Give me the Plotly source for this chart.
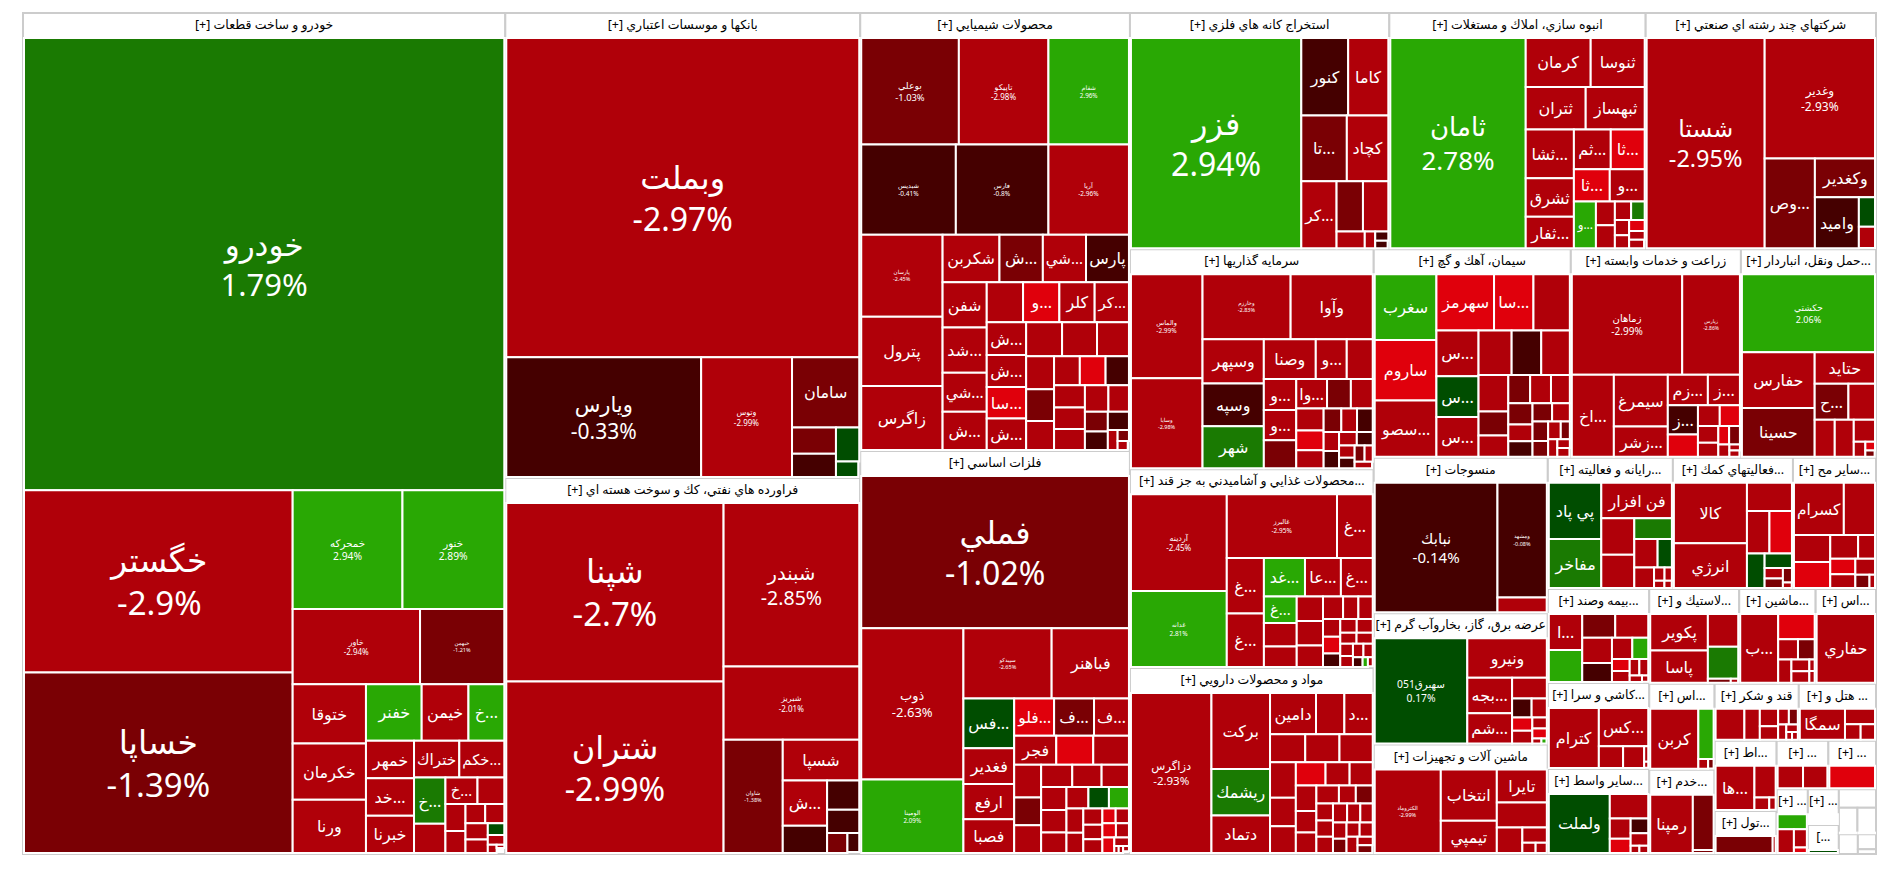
import plotly.graph_objects as go

sector_names = ["[+] خودرو و ساخت قطعات", "[+] بانكها و موسسات اعتباري", "[+] فراورده هاي نفتي، كك و سوخت هسته اي",
    "[+] محصولات شيميايي", "[+] فلزات اساسي", "[+] استخراج كانه هاي فلزي", "[+] انبوه سازي، املاك و مستغلات",
    "[+] شركتهاي چند رشته اي صنعتي", "[+] سرمايه گذاريها", "[+] سيمان، آهك و گچ", "[+] زراعت و خدمات وابسته",
    "[+] حمل ونقل، انباردار...", "[+] محصولات غذايي و آشاميدني به جز قند...", "[+] مواد و محصولات دارويي", "[+] منسوجات",
    "[+] عرضه برق، گاز، بخاروآب گرم", "[+] ماشين آلات و تجهيزات", "[+] رايانه و فعاليته...", "[+] فعاليتهاي كمك...",
    "[+] ساير مح...", "[+] بيمه وصند...", "[+] لاستيك و...", "[+] ماشين...", "[+] اس...", "[+] كاشي و سرا...", "[+] اس...",
    "[+] قند و شكر", "[+] هتل و ...", "[+] اط...", "[+] ...", "[+] ...", "[+] خدم...", "[+] ساير واسط...", "[+] تول...",
    "[+] ...", "[+] ...", "[...", "", "", "", "", "", ""]
sector_sizes = [404521, 164610, 133104, 117822, 108407, 61124, 60416, 54280, 53460, 40976, 35360, 28080, 48357, 45198,
    27000, 22800, 19000, 16375, 15720, 10873, 9500, 8500, 7220, 5700, 8700, 5600, 4788, 4389, 4340, 2499, 2303, 5500,
    8600, 2666, 2016, 1104, 899, 682, 493, 374, 493, 272, 85]

names_01 = ["خودرو", "خگستر", "خساپا", "خمحركه", "خنور", "خاور", "خبهمن", "ختوقا", "خكرمان", "ورنا", "خفنر", "خيمن", "خ...", "خمهر", "خد...", "خبرنا", "ختراك", "خكم...", "خ...", "خ...", "", "", "", "", "", "", "", "", "", "", "", ""]
sizes_01 = [216029, 48760, 48230, 12980, 12036, 9525, 6300, 4320, 4104, 3888, 3136, 2632, 2016, 1800, 1790, 1780, 1660, 1650, 1440, 840, 918, 702, 440, 380, 361, 540, 368, 192, 299, 160, 72, 24]
change_01 = [1.79, -2.9, -1.39, 2.94, 2.89, -2.94, -1.21, -2.9, -2.9, -2.9, 2.5, -2.9, 2.5, -2.9, -2.9, -2.9, -2.9, -2.9, 1.5, -2.9, -2.9, -2.9, -2.9, -2.9, -2.9, -2.9, -2.9, 0.4, -2.9, -2.9, -2.9, -2.9]

names_02 = ["وبملت", "ويارس", "وتوس", "سامان", "", "", "", ""]
sizes_02 = [111969, 23160, 10800, 4690, 1144, 1012, 782, 345]
change_02 = [-2.97, -0.33, -2.99, -1.5, -1.5, -0.6, 0.4, 0.3]

names_03 = ["شپنا", "شتران", "شبندر", "شبريز", "شاوان", "شسپا", "ش...", "", "", "", "", ""]
sizes_03 = [38270, 36765, 21896, 9792, 6612, 3080, 1980, 928, 736, 1188, 400, 220]
change_03 = [-2.7, -2.99, -2.85, -2.01, -1.38, -2.5, -2.5, -0.6, -0.6, -0.7, -1.5, -0.7]

names_04 = ["بوعلي", "تاپيكو", "شفام", "شبديس", "فارس", "آريا", "پارسان", "پترول", "زاگرس", "شكربن", "ش...", "شي...", "پارس", "شفن", "شد...", "شي...", "ش...", "", "و...", "كلر", "كر...", "ش...", "ش...", "سا...", "ش..."] + [""] * 20
sizes_04 = [10088, 9256, 8320, 8272, 8096, 7040, 6478, 5451, 5056, 2622, 2000, 1990, 1980, 1935, 1935, 1677, 1634, 1404, 1404, 1365, 1326, 1254, 1220, 1210, 1200, 1188, 1155, 1056, 891, 728, 728, 644, 864, 783, 660, 630, 660, 600, 525, 414, 374, 437, 190, 121, 88]
change_04 = [-1.03, -2.98, 2.96, -0.41, -0.8, -2.96, -2.45, -2.8, -2.7, -2.8, -1.5, -2.6, -0.5, -2.7, -2.7, -2.7, -2.7, -2.7, -3.2, -2.7, -2.7, -2.7, -2.7, -3.2, -2.7, -2.7, -2.7, -2.7, -2.7, -2.7, -3.2, -2.7, -1.5, -2.7, -0.6, -2.7, -2.7, -2.7, -2.7, -0.6, -0.6, -1.5, -2.7, -1.5, -2.7]

names_05 = ["فملي", "ذوب", "الومينا", "سپيدكو", "فباهنر", "فس...", "فغدير", "ارفع", "فصبا", "فلو...", "ف...", "ف...", "فجر"] + [""] * 28
sizes_05 = [39664, 15048, 7326, 6052, 5304, 2450, 1765, 1750, 1666, 1440, 1440, 1260, 1188, 1044, 1008, 864, 728, 728, 676, 638, 594, 572, 552, 506, 460, 430, 420, 400, 330, 300, 255, 180, 180, 272, 192, 192, 187, 121, 30, 30, 30]
change_05 = [-1.02, -2.63, 2.09, -2.65, -2.7, 0.4, -2.7, -2.7, -2.7, -3.2, -1.5, -2.7, -2.7, -3.2, -2.7, -2.7, -1.5, -2.7, -2.7, -2.7, -2.7, -2.7, -2.7, -2.7, -2.7, 0.3, 2.5, -2.7, -2.7, -2.7, -2.7, -2.7, -3.2, -2.7, -3.2, -2.7, -3.2, -2.7, -2.7, -2.7, -2.7]

names_06 = ["فزر", "كنور", "كاما", "تا...", "كچاد", "كر...", "", "", "", "", "", ""]
sizes_06 = [34500, 3500, 3000, 2880, 2624, 2278, 1274, 1225, 459, 170, 117, 91]
change_06 = [2.94, -0.6, -2.6, -1.5, -2.6, -2.6, -1.5, -2.6, -2.6, -2.6, -0.7, -0.6]

names_07 = ["ثامان", "كرمان", "ثنوسا", "ثتران", "ثبهساز", "ثشا...", "ثشرق", "ثفار...", "ثم...", "ثا...", "ثا...", "و...", "و..."] + [""] * 9
sizes_07 = [27379, 3055, 2538, 2460, 2419, 2256, 1786, 1457, 1406, 1292, 1116, 1085, 990, 432, 288, 240, 180, 165, 420, 208, 132, 121]
change_07 = [2.78, -2.7, -2.7, -2.7, -2.7, -2.7, -2.7, -2.7, -2.7, -3.2, -3.2, -2.7, 2.4, -2.7, -2.7, 1.5, -2.7, -3.2, -2.7, -2.7, -2.7, -2.7]

names_08 = ["شستا", "وغدير", "وص...", "وكغدير", "واميد", "", ""]
sizes_08 = [24244, 12980, 4410, 2280, 2193, 464, 336]
change_08 = [-2.95, -2.93, -1.5, -1.5, -0.6, 0.3, -2.8]

names_09 = ["والماس", "وسايا", "وخارزم", "وآوا", "وسپهر", "وسپه", "شهر", "وصنا", "و...", "", "و...", "و...", "", "وا..."] + [""] * 17
sizes_09 = [7107, 6141, 5456, 5084, 2600, 2500, 2450, 1976, 1178, 988, 961, 930, 868, 868, 672, 616, 572, 396, 352, 352, 520, 468, 280, 252, 228, 204, 182, 154, 126, 156, 108]
change_09 = [-2.99, -2.98, -2.83, -2.7, -2.7, -0.6, 1.5, -2.7, -2.7, -2.7, -2.7, -2.7, -1.5, -2.7, -1.5, -2.7, -2.7, -1.5, -2.7, -0.6, -3.2, -2.7, -2.7, -0.6, -2.7, -0.6, -2.7, -1.5, -2.7, -0.6, -2.7]

names_10 = ["سغرب", "ساروم", "سصو...", "سهرمز", "سا...", "", "س...", "س...", "س..."] + [""] * 21
sizes_10 = [3776, 3481, 3245, 3021, 2067, 1908, 1800, 1600, 1560, 1376, 1189, 1230, 1008, 672, 588, 572, 494, 546, 484, 336, 304, 374, 352, 285, 150, 150, 228, 209, 100, 100]
change_10 = [2.3, -3.2, -2.7, -3.2, -3.2, -2.7, -2.7, 0.3, -2.7, -2.7, -2.7, -0.6, -2.7, -1.5, -2.7, -1.5, -2.7, -2.7, -1.5, -1.5, -2.7, -2.7, -0.6, -1.5, -1.5, -2.7, -1.5, -2.7, -2.7, -2.7]

names_11 = ["زماهان", "زپارس", "اخ...", "سيمرغ", "زشر...", "زم...", "ز...", "ز...", "", "", "", "", "", "", "", "", "", ""]
sizes_11 = [10573, 5529, 3280, 2652, 1560, 1160, 928, 841, 638, 432, 324, 399, 190, 190, 273, 130, 60, 60]
change_11 = [-2.99, -2.86, -2.7, -2.7, -2.7, -2.7, -2.7, -0.6, -3.2, -2.7, -2.7, -3.2, -3.2, -1.5, -2.7, -2.7, -2.7, -2.7]

names_12 = ["حكشتي", "حفارس", "حسينا", "حتايد", "ح...", "", "", "", "", "", "", ""]
sizes_12 = [9825, 3850, 3360, 1800, 1155, 910, 703, 666, 441, 165, 81, 54]
change_12 = [2.06, -2.7, -1.5, -2.7, -1.5, -2.7, -2.7, -2.7, -2.7, -2.7, -3.2, -1.5]

names_13 = ["آردينه", "غدانه", "غالبرز", "غ...", "غ...", "غ...", "غد...", "عا...", "غ...", "غ..."] + [""] * 22
sizes_13 = [8648, 6808, 6549, 2124, 1925, 1855, 1480, 1295, 1147, 810, 720, 630, 600, 600, 528, 420, 320, 300, 285, 270, 210, 221, 169, 143, 117, 170, 132, 204, 132, 88, 48, 40]
change_13 = [-2.45, 2.81, -2.95, -2.7, -2.7, -2.7, 2.4, -2.7, -2.7, 2.4, -2.7, -2.7, -2.7, -2.7, -2.7, -2.7, -2.7, -2.7, -2.7, -3.2, -2.7, -0.6, -2.7, -2.7, -2.7, -2.7, -2.7, -2.7, -2.7, -0.6, 2.4, -2.7]

names_14 = ["دزاگرس", "بركت", "ريشمك", "دتماد", "دامين", "", "د..."] + [""] * 28
sizes_14 = [12160, 4200, 2576, 2072, 1786, 1102, 1102, 936, 910, 884, 864, 696, 648, 651, 525, 504, 494, 418, 399, 384, 288, 288, 238, 266, 224, 255, 255, 255, 208, 182, 169, 176, 176, 120, 108]
change_14 = [-2.93, -2.8, 1.5, -2.8, -2.8, -2.8, -2.8, -2.8, -2.8, -2.8, -2.8, -2.8, -3.2, -2.8, -2.8, -2.8, -2.8, -2.8, -2.8, -2.8, -2.8, -1.5, -2.8, -2.8, -2.8, -2.8, -2.8, -2.8, -2.8, -1.5, -2.8, -2.8, -2.8, -2.8, -1.5]

names_15 = ["نبابك", "ومشهد", ""]
sizes_15 = [15972, 5684, 735]
change_15 = [-0.14, -0.08, -2.8]

names_16 = ["سهبرق051", "ونيرو", "بجه...", "شم...", "", "", "", "", "", "", "", "", ""]
sizes_16 = [9450, 3040, 1540, 1320, 700, 360, 252, 280, 154, 260, 140, 45, 25]
change_16 = [0.17, -2.8, -2.8, -2.8, -2.8, -0.6, -2.8, -2.8, -2.8, -3.2, -3.2, -2.8, 2.4]

names_17 = ["الكتروماد", "انتخاب", "تيمپي", "تايرا", "", "", "", "", ""]
sizes_17 = [4864, 2530, 1595, 1450, 1104, 575, 330, 120, 100]
change_17 = [-2.99, -2.8, -2.8, -2.8, -2.8, -2.8, -2.8, -2.8, -2.8]

names_18 = ["پي پاد", "مفاخر", "فن افزار", "", "", "", "", "", "", "", "", "", ""]
sizes_18 = [2754, 2397, 2343, 1120, 1024, 722, 621, 378, 380, 130, 91, 70, 49]
change_18 = [0.4, 1.5, -2.8, -2.8, -2.8, 1.5, -2.8, -2.8, 0.3, -2.8, -2.8, -2.8, -2.8]

names_19 = ["كالا", "انرژي", "", "", "", "", "", "", "", "", ""]
sizes_19 = [4060, 3010, 1170, 880, 880, 560, 364, 176, 160, 121, 44]
change_19 = [-2.8, -2.8, -2.8, -2.8, -3.2, 0.3, 0.3, -2.8, -1.5, -1.5, -2.8]

names_20 = ["كسرام", "", "", "", "", "", "", "", "", "", ""]
sizes_20 = [2352, 1470, 884, 850, 594, 352, 360, 285, 312, 169, 65]
change_20 = [-2.8, -2.8, -2.8, -3.2, -2.8, -3.2, -2.8, -2.8, -2.8, -1.5, -2.8]

names_21 = ["ا...", "", "", "", "", "", "", "", "", "", "", "", "", ""]
sizes_21 = [1088, 960, 704, 704, 682, 506, 391, 306, 192, 144, 176, 132, 72, 36]
change_21 = [-2.8, 2.4, -1.5, -2.8, -2.8, -0.6, -2.8, 2.4, -3.3, -2.8, -2.8, -2.8, -2.8, -2.8]

names_22 = ["پكوير", "پاسا", "", "", "", ""]
sizes_22 = [1960, 1736, 930, 900, 88, 28]
change_22 = [-2.8, -2.8, -2.8, 1.5, -1.5, -2.8]

names_23 = ["ب...", "", "", "", "", "", "", "", ""]
sizes_23 = [2345, 828, 361, 304, 276, 187, 55, 187, 55]
change_23 = [-2.8, -3.2, -2.8, -1.5, -2.8, -2.8, -2.8, -2.8, -2.8]

names_24 = ["حفاري"]
sizes_24 = [3886]
change_24 = [-2.8]

names_25 = ["كترام", "كس...", "", "", "", ""]
sizes_25 = [2880, 1813, 506, 440, 60, 24]
change_25 = [-2.8, -2.8, -2.8, -2.8, -2.8, -2.8]

names_26 = ["كربن", "", "", ""]
sizes_26 = [2760, 735, 90, 50]
change_26 = [-2.8, 2.4, -2.8, -1.5]

names_27 = ["", "", "", "", "", "", "", "", "", ""]
sizes_27 = [806, 432, 288, 224, 154, 128, 112, 77, 40, 40]
change_27 = [-2.8, -2.8, -2.8, -2.8, -2.8, -1.5, -2.8, -2.8, -2.8, -2.8]

names_28 = ["سمگا", "", "", ""]
sizes_28 = [1320, 437, 230, 210]
change_28 = [-2.8, -2.8, -2.8, -2.8]

names_29 = ["ها...", "", "", ""]
sizes_29 = [1554, 609, 168, 72]
change_29 = [-2.8, -2.8, -2.8, -2.8]

names_30 = ["", ""]
sizes_30 = [483, 504]
change_30 = [-2.8, -2.8]

names_31 = [""]
sizes_31 = [924]
change_31 = [-3.2]

names_32 = ["رمپنا", "", ""]
sizes_32 = [2337, 1080, 60]
change_32 = [-2.8, -1.5, -1.5]

names_33 = ["ولملت", "", "", "", "", "", "", ""]
sizes_33 = [3422, 897, 399, 285, 209, 247, 60, 60]
change_33 = [0.3, -2.8, -2.8, -3.2, -2.8, -0.6, -2.8, -2.8]

names_34 = ["", ""]
sizes_34 = [928, 48]
change_34 = [-1.5, -2.8]

names_35 = ["", "", "", ""]
sizes_35 = [224, 196, 120, 36]
change_35 = [2.4, -2.8, -2.8, -3.2]

empty_names = [""]
empty_sizes = [1]
change_36 = [None]
change_37 = [0.3]
change_38 = [-3.2]

# label sizes for the tiles that also print their change
label_fonts = {"خودرو": 31, "فملي": 32, "شپنا": 33, "شتران": 32, "وبملت": 32, "خگستر": 33, "خساپا": 33, "فزر": 32,
    "ثامان": 26, "شستا": 23.5, "شبندر": 19.5, "ويارس": 21, "ذوب": 13, "خمحركه": 10.3, "خنور": 10.3, "وتوس": 8,
    "خاور": 8, "خبهمن": 5.5, "بوعلي": 9.4, "تاپيكو": 8, "شفام": 6.3, "شبديس": 6.5, "فارس": 6.5, "آريا": 6.5,
    "پارسان": 5.5, "شبريز": 8, "شاوان": 5.5, "سپيدكو": 5.5, "الومينا": 6.3, "حكشتي": 9, "زماهان": 10, "زپارس": 5,
    "وغدير": 12, "والماس": 6.5, "وسايا": 5.5, "وخارزم": 5.5, "آردينه": 8, "غدانه": 6.5, "غالبرز": 6.5, "نبابك": 15,
    "ومشهد": 5.5, "سهبرق051": 10.3, "دزاگرس": 11.5, "الكتروماد": 5.5}
PLAIN_FONT = 16
HEADER_FONT = 12.5
FAMILY = "Noto Sans, DejaVu Sans, sans-serif"


def tile_colour(change):
    if change is None:
        return "#ffffff"
    if change >= 2:
        return "#29a804"
    if change >= 1:
        return "#1a7a02"
    if change >= 0:
        return "#004d00"
    if change > -1:
        return "#450000"
    if change > -2:
        return "#7a0004"
    if change >= -3:
        return "#b00009"
    return "#e0000c"


def sector_leaves(i):
    if i < 35:
        n = f"{i + 1:02d}"
        return globals()["names_" + n], globals()["sizes_" + n], globals()["change_" + n]
    if i == 36:
        return empty_names, empty_sizes, change_37
    if i == 37:
        return empty_names, empty_sizes, change_38
    return empty_names, empty_sizes, change_36


ids = ["root"]
parents = [""]
values = [float(sum(sector_sizes))]
texts = [""]
colours = ["#ffffff"]
fonts = [HEADER_FONT]
font_colours = ["#000000"]
line_colours = ["#ffffff"]
line_widths = [0]
for i, (title, total) in enumerate(zip(sector_names, sector_sizes)):
    sid = f"sector{i}"
    ids.append(sid); parents.append("root"); values.append(float(total)); texts.append(title)
    colours.append("#ffffff"); fonts.append(HEADER_FONT); font_colours.append("#000000")
    line_colours.append("#cccccc"); line_widths.append(2)
    names, sizes, changes = sector_leaves(i)
    scale = total / sum(sizes)
    for j, (name, size, change) in enumerate(zip(names, sizes, changes)):
        ids.append(f"{sid}_{j}"); parents.append(sid); values.append(size * scale * 0.9999)
        texts.append(f"{name}<br>{change:g}%" if name in label_fonts else name)
        colours.append(tile_colour(change)); fonts.append(label_fonts.get(name, PLAIN_FONT))
        font_colours.append("#ffffff"); line_colours.append("#ffffff"); line_widths.append(2)

fig = go.Figure(go.Treemap(
    ids=ids, labels=texts, parents=parents, values=values, text=texts, branchvalues="total", textinfo="text",
    textposition="middle center", sort=True, hoverinfo="skip", maxdepth=-1,
    textfont=dict(family=FAMILY, size=fonts, color=font_colours),
    marker=dict(colors=colours, line=dict(color=line_colours, width=line_widths), depthfade=False,
                pad=dict(t=25, l=1, r=1, b=1)),
    tiling=dict(pad=0), pathbar=dict(visible=False),
))
fig.update_layout(width=1900, height=885, autosize=False, margin=dict(l=22, r=23, t=0, b=18),
                  paper_bgcolor="#ffffff", font=dict(family=FAMILY))
# the root node keeps an empty header band: lift the page so the sectors start where the reference does
lift = ("document.body.style.margin='0';document.body.style.overflow='hidden';"
        "document.querySelector('.plotly-graph-div').style.marginTop='-12px';")
fig.write_html("out.html", config={"displayModeBar": False}, post_script=lift)
